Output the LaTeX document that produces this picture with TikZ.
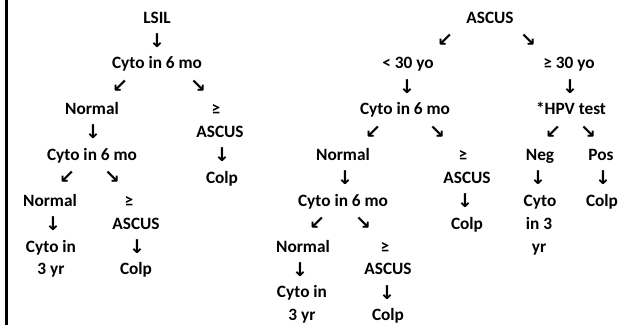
\documentclass[tikz,border=0pt]{standalone}
\usepackage{fontspec}
\setmainfont{Carlito}
\newfontfamily\arrowfont{DejaVu Sans}
\usetikzlibrary{positioning}
\tikzset{
  txt/.style={font=\fontsize{17.3}{21}\selectfont\bfseries, inner sep=0pt, text height=11.1pt, text depth=0pt},
  arr/.style={font=\fontsize{19}{20}\selectfont\arrowfont\bfseries, inner sep=0pt},
  rule/.style={line width=2.2pt},
}
\begin{document}
\begin{tikzpicture}[x=1pt, y=-22.9pt]
  \useasboundingbox (0,-0.764) rectangle (622,13.428);
  \draw[rule] (6.5,-0.764) -- (6.5,13.428);

  % LSIL branch
  \node[txt] (lsil) at (157,0) {LSIL};
  \node[arr] (lsilDown) at (157,1) {↓};
  \node[txt] (cytoA) at (157,2) {Cyto in 6 mo};
  \node[arr] (cytoAL) at (120,3) {↙};
  \node[arr] (cytoAR) at (198,3) {↘};
  \node[txt] (normA) at (92,4) {Normal};
  \node[txt] (geA) at (216,4) {≥};
  \node[arr] (normADown) at (93,5) {↓};
  \node[txt] (ascusA) at (220,5) {ASCUS};
  \node[txt] (cytoB) at (92,6) {Cyto in 6 mo};
  \node[arr] (ascusADown) at (222,6) {↓};
  \node[arr] (cytoBL) at (67,7) {↙};
  \node[arr] (cytoBR) at (112,7) {↘};
  \node[txt] (colpA) at (222,7) {Colp};
  \node[txt] (normB) at (50,8) {Normal};
  \node[txt] (geB) at (129,8) {≥};
  \node[arr] (normBDown) at (53,9) {↓};
  \node[txt] (ascusB) at (136,9) {ASCUS};
  \node[txt] (yrA1) at (51,10) {Cyto in};
  \node[arr] (ascusBDown) at (137,10) {↓};
  \node[txt] (yrA2) at (51,11) {3 yr};
  \node[txt] (colpB) at (136,11) {Colp};

  % ASCUS branch
  \node[txt] (ascus) at (490,0) {ASCUS};
  \node[arr] (ascusL) at (445,1) {↙};
  \node[arr] (ascusR) at (528,1) {↘};
  \node[txt] (young) at (408,2) {< 30 yo};
  \node[txt] (old) at (569,2) {≥ 30 yo};
  \node[arr] (youngDown) at (407,3) {↓};
  \node[arr] (oldDown) at (570,3) {↓};
  \node[txt] (cytoC) at (405,4) {Cyto in 6 mo};
  \node[txt] (hpv) at (571,4) {*HPV test};
  \node[arr] (cytoCL) at (373,5) {↙};
  \node[arr] (cytoCR) at (437,5) {↘};
  \node[arr] (hpvL) at (553,5) {↙};
  \node[arr] (hpvR) at (588,5) {↘};
  \node[txt] (normC) at (343,6) {Normal};
  \node[txt] (geC) at (463,6) {≥};
  \node[txt] (neg) at (540,6) {Neg};
  \node[txt] (pos) at (601,6) {Pos};
  \node[arr] (normCDown) at (345,7) {↓};
  \node[txt] (ascusC) at (467,7) {ASCUS};
  \node[arr] (negDown) at (538,7) {↓};
  \node[arr] (posDown) at (603,7) {↓};
  \node[txt] (cytoD) at (343,8) {Cyto in 6 mo};
  \node[arr] (ascusCDown) at (465,8) {↓};
  \node[txt] (negCyto1) at (540,8) {Cyto};
  \node[txt] (colpP) at (602,8) {Colp};
  \node[arr] (cytoDL) at (317,9) {↙};
  \node[arr] (cytoDR) at (363,9) {↘};
  \node[txt] (colpC) at (467,9) {Colp};
  \node[txt] (negCyto2) at (539,9) {in 3};
  \node[txt] (normD) at (303,10) {Normal};
  \node[txt] (geD) at (385,10) {≥};
  \node[txt] (negCyto3) at (539,10) {yr};
  \node[arr] (normDDown) at (300,11) {↓};
  \node[txt] (ascusD) at (388,11) {ASCUS};
  \node[txt] (yrB1) at (302,12) {Cyto in};
  \node[arr] (ascusDDown) at (387,12) {↓};
  \node[txt] (yrB2) at (302,13) {3 yr};
  \node[txt] (colpD) at (388,13) {Colp};
\end{tikzpicture}
\end{document}
